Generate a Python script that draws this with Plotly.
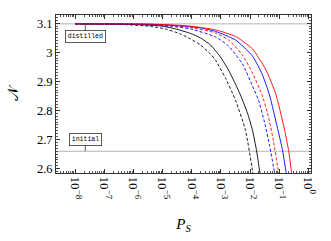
import plotly.graph_objects as go

# ---- data (x as log10(P_S), y as N) ----
black_dashed_logp = [-8.0, -6.454, -5.423, -4.907, -4.392, -4.048, -3.704, -3.361, -3.189, -2.845, -2.502, -2.158, -1.918, -1.849]
black_dashed_n = [3.0976, 3.0959, 3.0890, 3.0803, 3.0631, 3.0459, 3.0252, 2.9941, 2.9734, 2.9114, 2.8355, 2.7321, 2.5941, 2.5528]

black_solid_logp = [-8.0, -6.110, -5.079, -4.564, -4.048, -3.704, -3.361, -3.017, -2.742, -2.502, -2.330, -2.089, -1.918, -1.780, -1.677, -1.608]
black_solid_n = [3.0976, 3.0959, 3.0907, 3.0803, 3.0648, 3.0493, 3.0252, 2.9838, 2.9390, 2.8907, 2.8528, 2.7907, 2.7321, 2.6631, 2.5941, 2.5493]

blue_dashed_logp = [-8.0, -5.766, -4.735, -4.048, -3.189, -2.742, -2.261, -1.918, -1.711, -1.505, -1.333, -1.162, -1.093]
blue_dashed_n = [3.0976, 3.0959, 3.0890, 3.0803, 3.0528, 3.0217, 2.9597, 2.8838, 2.8355, 2.7597, 2.6803, 2.5872, 2.5528]

red_dashed_logp = [-8.0, -5.766, -4.735, -4.048, -3.189, -2.742, -2.261, -1.918, -1.574, -1.368, -1.196, -1.024, -0.955]
red_dashed_n = [3.0976, 3.0959, 3.0914, 3.0855, 3.0666, 3.0424, 2.9907, 2.9286, 2.8493, 2.7769, 2.6941, 2.5872, 2.5528]

blue_solid_logp = [-8.0, -5.423, -4.392, -3.704, -3.189, -2.502, -1.918, -1.574, -1.333, -1.058, -0.887, -0.766, -0.697]
blue_solid_n = [3.0976, 3.0959, 3.0907, 3.0838, 3.0717, 3.0424, 2.9872, 2.9217, 2.8528, 2.7390, 2.6631, 2.5872, 2.5493]

red_solid_logp = [-8.0, -5.423, -4.392, -3.704, -3.189, -2.502, -1.918, -1.471, -1.127, -0.852, -0.680, -0.577, -0.509]
red_solid_n = [3.0976, 3.0966, 3.0924, 3.0855, 3.0769, 3.0545, 3.0114, 2.9424, 2.8597, 2.7493, 2.6631, 2.5872, 2.5493]

distilled_level = 3.0976
initial_level = 2.6597
pin_logp = -7.656

x_tick_exps = [-8, -7, -6, -5, -4, -3, -2, -1, 0]
y_tick_vals = [2.6, 2.7, 2.8, 2.9, 3.0, 3.1]
y_tick_text = ["2.6", "2.7", "2.8", "2.9", "3", "3.1"]

series = [
    (black_dashed_logp, black_dashed_n, "black", "dash"),
    (black_solid_logp, black_solid_n, "black", "solid"),
    (blue_dashed_logp, blue_dashed_n, "#0000ff", "dash"),
    (red_dashed_logp, red_dashed_n, "#ff0000", "dash"),
    (blue_solid_logp, blue_solid_n, "#0000ff", "solid"),
    (red_solid_logp, red_solid_n, "#ff0000", "solid"),
]

fig = go.Figure()
for lp, n, col, dash in series:
    fig.add_trace(go.Scatter(
        x=[10 ** v for v in lp], y=n, mode="lines",
        line=dict(color=col, width=0.9, dash=("3px,2px" if dash == "dash" else "solid"), shape="spline", smoothing=0.5),
        showlegend=False, hoverinfo="skip",
    ))

for lvl in (distilled_level, initial_level):
    fig.add_shape(type="line", xref="x domain", yref="y", x0=0, x1=1, y0=lvl, y1=lvl,
                  line=dict(color="#b4b4b4", width=1), layer="below")

serif = "Liberation Serif, DejaVu Serif, serif"
mono = "Liberation Mono, DejaVu Sans Mono, monospace"

fig.add_annotation(x=pin_logp, y=distilled_level, xref="x", yref="y", text="distilled",
                   showarrow=True, arrowhead=0, arrowwidth=0.8, arrowcolor="#333", ax=0, ay=13,
                   font=dict(family=mono, size=6.5, color="black"),
                   bordercolor="#333", borderwidth=0.8, borderpad=2, bgcolor="white")
fig.add_annotation(x=pin_logp, y=initial_level, xref="x", yref="y", text="initial",
                   showarrow=True, arrowhead=0, arrowwidth=0.8, arrowcolor="#333", ax=0, ay=-12,
                   font=dict(family=mono, size=6.5, color="black"),
                   bordercolor="#333", borderwidth=0.8, borderpad=2, bgcolor="white")

fig.update_xaxes(
    type="log", range=[-8.66, 0.09],
    tickvals=[10 ** e for e in x_tick_exps],
    ticktext=["10<sup>\u2212%d</sup>" % (-e) if e < 0 else "10<sup>0</sup>" for e in x_tick_exps],
    tickangle=90, ticks="inside", ticklen=4, tickwidth=0.8, tickcolor="#333",
    minor=dict(ticks="inside", ticklen=2, tickwidth=0.6, tickcolor="#555", dtick="D1"),
    showline=True, linecolor="#333", linewidth=1, mirror="allticks",
    showgrid=False, zeroline=False,
    tickfont=dict(family=serif, size=13, color="black"),
    title=dict(text="<i>P</i><sub><i>S</i></sub>", font=dict(family=serif, size=15, color="black"), standoff=19),
)
fig.update_yaxes(
    range=[2.585, 3.128],
    tickvals=y_tick_vals, ticktext=y_tick_text,
    ticks="inside", ticklen=4, tickwidth=0.8, tickcolor="#333",
    minor=dict(ticks="inside", ticklen=2, tickwidth=0.6, tickcolor="#555", dtick=0.01),
    showline=True, linecolor="#333", linewidth=1, mirror="allticks",
    showgrid=False, zeroline=False,
    tickfont=dict(family=serif, size=12.5, color="black"),
    title=dict(text="\U0001D4A9", font=dict(family=serif, size=15, color="black"), standoff=14),
)

fig.update_layout(
    width=331, height=241,
    margin=dict(l=56, r=20, t=15, b=68),
    paper_bgcolor="white", plot_bgcolor="white",
)

fig.write_html("out.html", config={"displayModeBar": False},
               post_script="document.body.style.margin='0px';document.body.style.padding='0px';")
